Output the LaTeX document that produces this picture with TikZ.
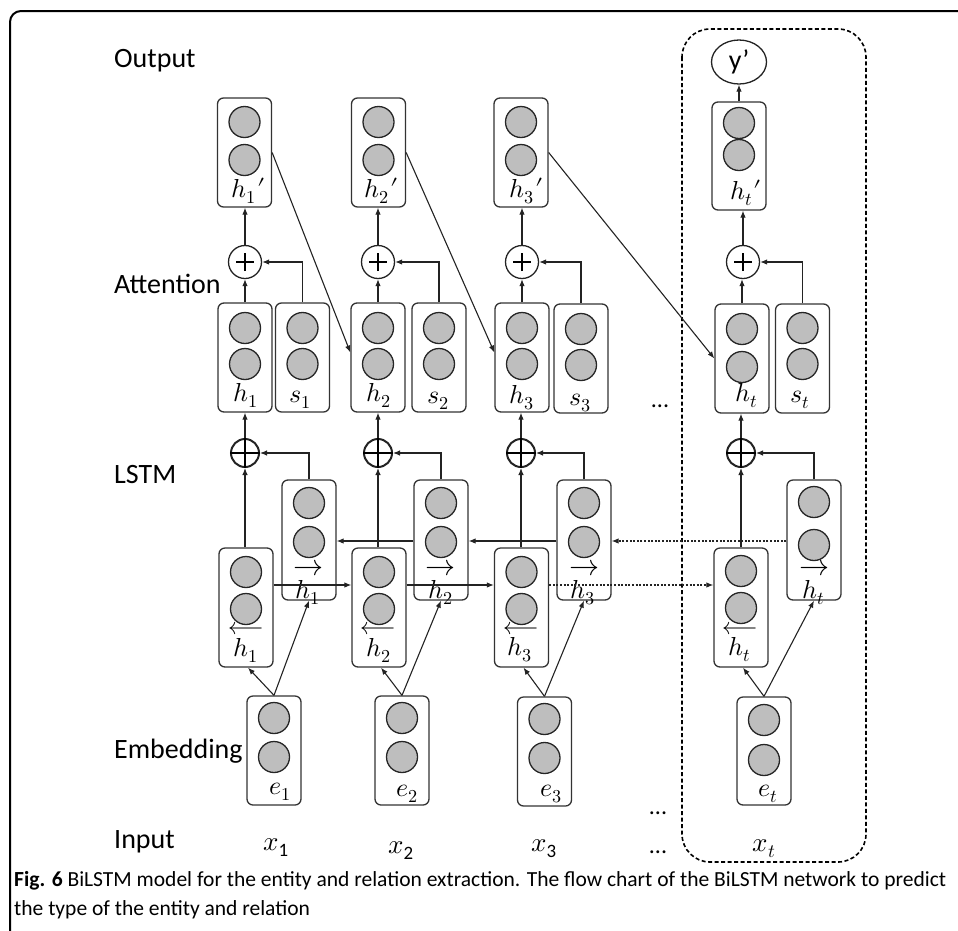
\documentclass[tikz,border=0pt]{standalone}
\usepackage{fontspec}
\usepackage{unicode-math}
\setmainfont{Carlito}
\setmathfont{Latin Modern Math}
\usepackage{graphicx}
\usetikzlibrary{arrows.meta,shapes.geometric}
\definecolor{cellgray}{RGB}{190,190,190}
\definecolor{inkline}{RGB}{35,35,35}

% a rounded cell holding two hidden units: name, centre x, top y, height, unit offsets
\newcommand{\nncell}[6]{%
  \node[cellbox, minimum height=#4pt] (#1) at (#2, #3+#4/2) {};
  \node[unit] (#1u1) at (#2, #3+#5) {};
  \node[unit] (#1u2) at (#2, #3+#6) {};
}
% circled plus for the attention sum
\newcommand{\attsum}[3]{%
  \node[sumcirc] (#1) at (#2,#3) {};
  \draw[line width=2.6pt] ([xshift=-9pt]#1.center) -- ([xshift=9pt]#1.center)
                          ([yshift=-9pt]#1.center) -- ([yshift=9pt]#1.center);
}
% circled cross joining both directions
\newcommand{\dirsum}[3]{%
  \node[joincirc] (#1) at (#2,#3) {};
  \draw[line width=1.7pt] (#1.north) -- (#1.south) (#1.west) -- (#1.east);
}

\begin{document}
\begin{tikzpicture}[x=1pt,y=-1pt,
  cellbox/.style={draw=black!80, line width=1.3pt, rounded corners=6pt,
                  minimum width=54pt, inner sep=0pt},
  unit/.style={circle, draw=black!85, line width=1.3pt, fill=cellgray,
               minimum size=31pt, inner sep=0pt},
  sumcirc/.style={circle, draw=inkline, line width=1.3pt, minimum size=33pt, inner sep=0pt},
  joincirc/.style={circle, draw=inkline, line width=2pt, minimum size=28pt, inner sep=0pt},
  arr/.style={-{Latex[length=7pt,width=5.5pt]}, line width=1.1pt, draw=inkline},
  dotarr/.style={arr, dash pattern=on 2pt off 1.6pt},
  lbl/.style={anchor=base, inner sep=0pt, font=\fontsize{26}{26}\selectfont},
  fwdarrow/.style={anchor=base, inner sep=0pt, font=\fontsize{30}{30}\selectfont},
  bwdarrow/.style={anchor=base, inner sep=0pt, font=\fontsize{24}{24}\selectfont},
  layer/.style={anchor=base west, inner sep=0pt, font=\fontsize{28}{28}\selectfont},
  inlbl/.style={anchor=base, inner sep=0pt, font=\fontsize{27}{27}\selectfont},
  dots/.style={anchor=base, inner sep=0pt, font=\fontsize{24}{24}\selectfont}
]
\useasboundingbox (0,0) rectangle (958,930);

% page frame
\draw[line width=2pt, rounded corners=11pt] (10,940) -- (10,11) -- (970,11);

% time step t group
\draw[line width=1.6pt, dash pattern=on 4pt off 2.5pt, rounded corners=28pt]
  (682,29) rectangle (866,862);

% layer names
\node[layer] (lout) at (114,67) {Output};
\node[layer] (latt) at (114,293) {Attention};
\node[layer] (llstm) at (114,483) {LSTM};
\node[layer] (lemb) at (114,758) {Embedding};
\node[layer] (linp) at (114,848) {Input};

% output cells
\nncell{o1}{244.5}{98}{109}{24}{62}
\nncell{o2}{378.5}{98}{109}{24}{62}
\nncell{o3}{521}{98}{109}{24}{62}
\nncell{ot}{739}{102}{108}{21}{53}
\node[ellipse, draw=inkline, line width=1.3pt, minimum width=55pt, minimum height=44pt,
      inner sep=0pt, font=\fontsize{28}{28}\selectfont] (yy) at (739,62) {y’};

\node[lbl] (o1l) at (249,197) {$h_1\mkern1mu\prime$};
\node[lbl] (o2l) at (382,197) {$h_2\mkern1mu\prime$};
\node[lbl] (o3l) at (527,197) {$h_3\mkern1mu\prime$};
\node[lbl] (otl) at (746,199) {$h_t\mkern1mu\prime$};

% attention sums
\attsum{p1}{245}{262}
\attsum{p2}{378}{262}
\attsum{p3}{522}{262}
\attsum{pt}{743}{262}

% attention cells
\nncell{a1}{245}{303}{109}{25}{61}
\nncell{s1}{302.5}{303}{109}{25}{61}
\nncell{a2}{378}{303}{109}{25}{61}
\nncell{s2}{439}{303}{109}{25}{61}
\nncell{a3}{522}{303}{109}{25}{61}
\nncell{s3}{581}{304}{109}{25}{61}
\nncell{at}{742}{304}{109}{25}{63}
\nncell{st}{802.5}{304}{109}{24}{60}

\node[lbl] (a1l) at (246,401) {$h_1$};
\node[lbl] (s1l) at (300,402) {$s_1$};
\node[lbl] (a2l) at (379,401) {$h_2$};
\node[lbl] (s2l) at (438,403) {$s_2$};
\node[lbl] (a3l) at (522,403) {$h_3$};
\node[lbl] (s3l) at (580,405) {$s_3$};
\node[lbl] (atl) at (747,401) {$h_t$};
\node[lbl] (stl) at (800,402) {$s_t$};
\node[dots] (adots) at (660,407) {...};

% direction joins
\dirsum{c1}{245}{453}
\dirsum{c2}{378}{453}
\dirsum{c3}{521}{453}
\dirsum{ct}{741}{453}

% forward and backward LSTM cells
\nncell{f1}{309}{480}{120}{23}{62}
\nncell{b1}{246}{548}{119}{24}{61}
\nncell{f2}{441}{480}{120}{23}{62}
\nncell{b2}{379}{548}{119}{24}{61}
\nncell{f3}{584}{480}{120}{23}{62}
\nncell{b3}{521.5}{548}{119}{24}{61}
\nncell{ft}{814}{480}{120}{22}{65}
\nncell{bt}{741}{548}{119}{23}{60}

\node[fwdarrow] (f1a) at (308,575) {$\rightarrow$};
\node[fwdarrow] (f2a) at (440,575) {$\rightarrow$};
\node[fwdarrow] (f3a) at (584,575) {$\rightarrow$};
\node[fwdarrow] (fta) at (814,575) {$\rightarrow$};
\node[lbl] (f1l) at (308,598) {$h_1$};
\node[lbl] (f2l) at (441,598) {$h_2$};
\node[lbl] (f3l) at (583,598) {$h_3$};
\node[lbl] (ftl) at (814,598) {$h_t$};

\node[bwdarrow] (b1a) at (246,634) {$\longleftarrow$};
\node[bwdarrow] (b2a) at (378,634) {$\longleftarrow$};
\node[bwdarrow] (b3a) at (521,634) {$\longleftarrow$};
\node[bwdarrow] (bta) at (740,634) {$\longleftarrow$};
\node[lbl] (b1l) at (246,656) {$h_1$};
\node[lbl] (b2l) at (379,656) {$h_2$};
\node[lbl] (b3l) at (520,655) {$h_3$};
\node[lbl] (btl) at (740,655) {$h_t$};

% embedding cells
\nncell{e1}{274}{696}{109}{22}{61}
\nncell{e2}{402}{696}{109}{22}{61}
\nncell{e3}{544.5}{697}{109}{22}{61}
\nncell{et}{764}{697}{108}{23}{63}

\node[lbl] (e1l) at (280,794) {$e_1$};
\node[lbl] (e2l) at (407,796) {$e_2$};
\node[lbl] (e3l) at (551,796) {$e_3$};
\node[lbl] (etl) at (768,796) {$e_t$};

% inputs
\node[inlbl] (x1) at (276,850) {$x_{\mathrm{1}}$};
\node[inlbl] (x2) at (401,853) {$x_{\mathrm{2}}$};
\node[inlbl] (x3) at (544,851) {$x_{\mathrm{3}}$};
\node[inlbl] (xt) at (764,851) {$x_t$};
\node[dots] (edots) at (658,814) {...};
\node[dots] (idots) at (658,853) {...};

% level guides for the recurrent links
\coordinate (lvf) at (0,541);
\coordinate (lvb) at (0,585);

% connectors: output
\draw[arr] (ot.north) -- (yy.south);
\foreach \i in {1,2,3,t}{
  \draw[arr] (p\i.north) -- (p\i.north |- o\i.south);
  \draw[arr] (a\i.north) -- (a\i.north |- p\i.south);
  \draw[arr] (s\i.north) |- (p\i.east);
  \draw[arr] (c\i.north) -- (c\i.north |- a\i.south);
  \draw[arr] (b\i.north -| c\i.south) -- (c\i.south);
  \draw[arr] (f\i.north) |- (c\i.east);
  \draw[arr] (e\i.north) -- ([xshift=2pt]b\i.south);
  \draw[arr] (e\i.north) -- (f\i.south);
}

% attention links from previous outputs
\draw[arr] (o1.east) -- ([yshift=5pt]a2.west);
\draw[arr] (o2.east) -- ([yshift=5pt]a3.west);
\draw[arr] (o3.east) -- (at.west);

% recurrent links
\draw[arr] (f2.west |- lvf) -- (f1.east |- lvf);
\draw[arr] (f3.west |- lvf) -- (f2.east |- lvf);
\draw[dotarr] (ft.west |- lvf) -- (f3.east |- lvf);
\draw[arr] (b1.east |- lvb) -- (b2.west |- lvb);
\draw[arr] (b2.east |- lvb) -- (b3.west |- lvb);
\draw[dotarr] (b3.east |- lvb) -- (bt.west |- lvb);

% caption
\node[anchor=base west, inner sep=0pt] (cap) at (14,886) {\resizebox{932pt}{!}{%
  \fontsize{18}{25}\selectfont\renewcommand{\arraystretch}{1}%
  \begin{tabular}[t]{@{}l@{}}
  \textbf{Fig. 6} BiLSTM model for the entity and relation extraction. The flow chart of the BiLSTM network to predict\\
  the type of the entity and relation
  \end{tabular}}};
\end{tikzpicture}
\end{document}
